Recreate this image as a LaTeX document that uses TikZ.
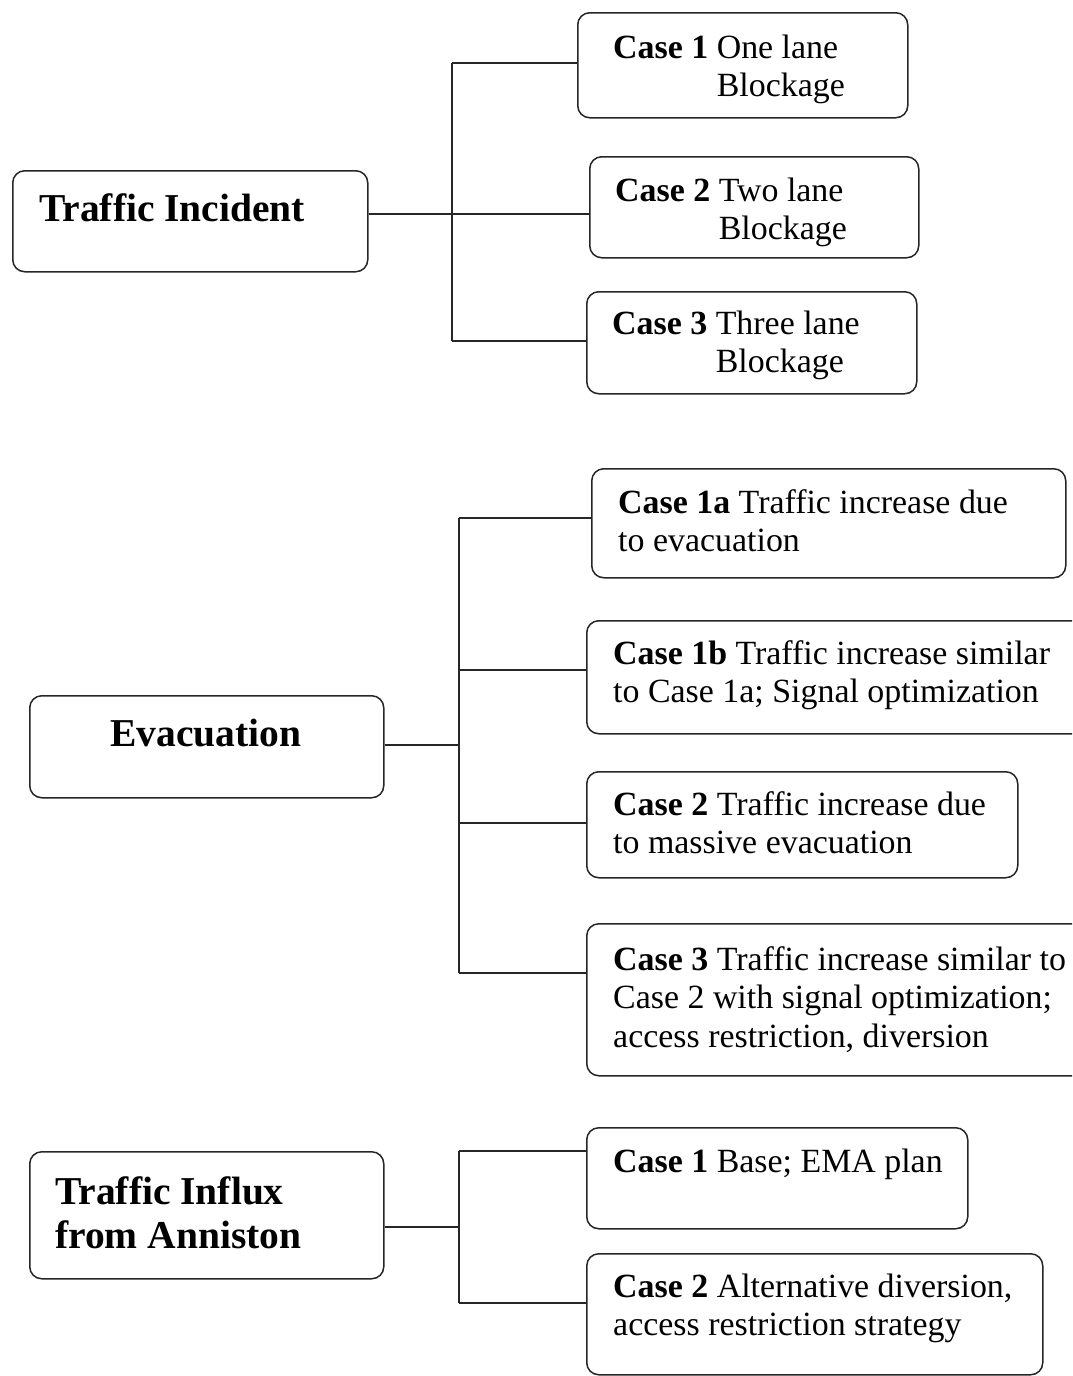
\documentclass[tikz,border=0pt]{standalone}
\usepackage{fontspec}
\setmainfont{Liberation Serif}
\begin{document}
\begin{tikzpicture}[x=1pt,y=-1pt,
  box/.style={draw=black!85, line width=1.5pt, rounded corners=12pt,
              anchor=north west, inner sep=0pt},
  wire/.style={draw=black!85, line width=1.5pt},
  casetext/.style={anchor=base west, inner sep=0pt,
                   font=\fontsize{33.9}{38.7}\selectfont},
  headtext/.style={inner sep=0pt,
                   font=\fontsize{39.5}{44}\selectfont\bfseries}]
\clip (0,0) rectangle (1072,1376);
\fill[white] (0,0) rectangle (1072,1376);

% ---------- Traffic incident ----------
\node[box, minimum width=355, minimum height=101] (ti) at (12,170) {};
\node[headtext, anchor=base west] (tit) at (39,221) {Traffic Incident};

\node[box, minimum width=330, minimum height=105] (c1) at (577,12) {};
\node[box, minimum width=329, minimum height=101] (c2) at (589,156) {};
\node[box, minimum width=330, minimum height=102] (c3) at (586,291) {};

\node[casetext] (c1t) at (613,58)
  {\begin{tabular}[t]{@{}l@{ }l@{}}\textbf{Case 1} & One lane\\ & Blockage\end{tabular}};
\node[casetext] (c2t) at (615,201)
  {\begin{tabular}[t]{@{}l@{ }l@{}}\textbf{Case 2} & Two lane\\ & Blockage\end{tabular}};
\node[casetext] (c3t) at (612,334)
  {\begin{tabular}[t]{@{}l@{ }l@{}}\textbf{Case 3} & Three lane\\ & Blockage\end{tabular}};

\coordinate (a1) at (452,63);
\coordinate (a2) at (452,214);
\coordinate (a3) at (452,341);
\draw[wire] (a1) -- (a3);
\draw[wire] (a2 -| ti.east) -- (a2) -- (a2 -| c2.west);
\draw[wire] (a1) -- (a1 -| c1.west);
\draw[wire] (a3) -- (a3 -| c3.west);

% ---------- Evacuation ----------
\node[box, minimum width=354, minimum height=102] (ev) at (29,695) {};
\node[headtext, anchor=base] (evt) at (206,746) {Evacuation};

\node[box, minimum width=474, minimum height=109] (e1a) at (591,468) {};
\node[box, minimum width=500, minimum height=113] (e1b) at (586,620) {};
\node[box, minimum width=431, minimum height=106] (e2) at (586,771) {};
\node[box, minimum width=500, minimum height=152] (e3) at (586,923) {};

\node[casetext] (e1at) at (618,513)
  {\begin{tabular}[t]{@{}l@{}}\textbf{Case 1a} Traffic increase due\\to evacuation\end{tabular}};
\node[casetext] (e1bt) at (613,664)
  {\begin{tabular}[t]{@{}l@{}}\textbf{Case 1b} Traffic increase similar\\to Case 1a; Signal optimization\end{tabular}};
\node[casetext] (e2t) at (613,815)
  {\begin{tabular}[t]{@{}l@{}}\textbf{Case 2} Traffic increase due\\to massive evacuation\end{tabular}};
\node[casetext] (e3t) at (613,970)
  {\begin{tabular}[t]{@{}l@{}}\textbf{Case 3} Traffic increase similar to\\Case 2 with signal optimization;\\access restriction, diversion\end{tabular}};

\coordinate (b1) at (459,518);
\coordinate (b2) at (459,670);
\coordinate (bj) at (459,745);
\coordinate (b3) at (459,823);
\coordinate (b4) at (459,973);
\draw[wire] (b1) -- (b4);
\draw[wire] (bj -| ev.east) -- (bj);
\draw[wire] (b1) -- (b1 -| e1a.west);
\draw[wire] (b2) -- (b2 -| e1b.west);
\draw[wire] (b3) -- (b3 -| e2.west);
\draw[wire] (b4) -- (b4 -| e3.west);

% ---------- Traffic influx ----------
\node[box, minimum width=354, minimum height=127] (tf) at (29,1151) {};
\node[headtext, anchor=base west] (tft) at (55,1204)
  {\begin{tabular}[t]{@{}l@{}}Traffic Influx\\from Anniston\end{tabular}};

\node[box, minimum width=381, minimum height=101] (f1) at (586,1127) {};
\node[box, minimum width=456, minimum height=121] (f2) at (586,1253) {};

\node[casetext] (f1t) at (613,1172) {\textbf{Case 1} Base; EMA plan};
\node[casetext] (f2t) at (613,1297)
  {\begin{tabular}[t]{@{}l@{}}\textbf{Case 2} Alternative diversion,\\access restriction strategy\end{tabular}};

\coordinate (d1) at (459,1151);
\coordinate (dj) at (459,1227);
\coordinate (d2) at (459,1303);
\draw[wire] (d1) -- (d2);
\draw[wire] (dj -| tf.east) -- (dj);
\draw[wire] (d1) -- (d1 -| f1.west);
\draw[wire] (d2) -- (d2 -| f2.west);
\end{tikzpicture}
\end{document}
